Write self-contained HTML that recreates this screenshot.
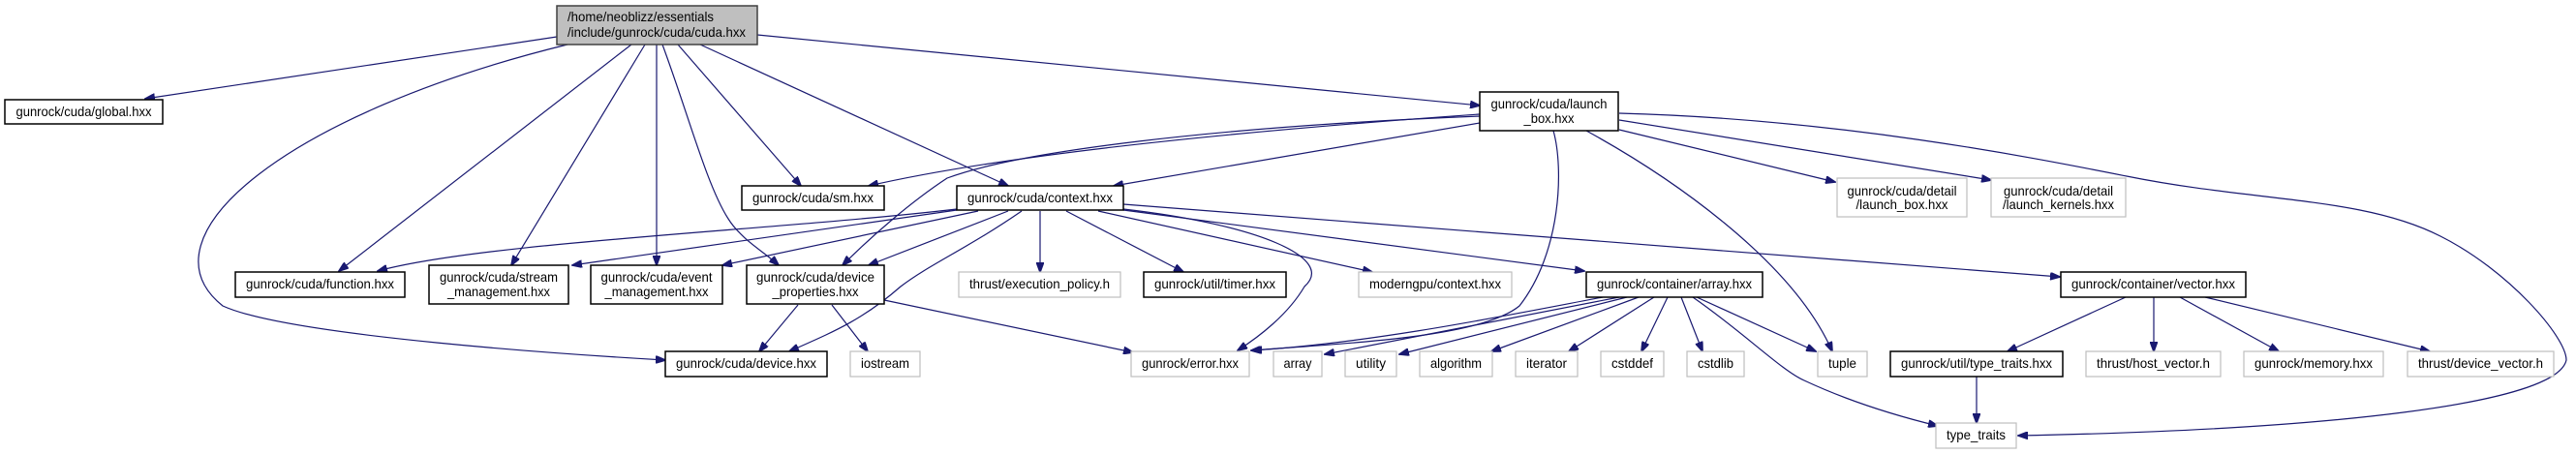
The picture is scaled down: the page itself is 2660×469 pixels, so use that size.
<!DOCTYPE html>
<html><head><meta charset="utf-8"><style>
html,body{margin:0;padding:0;background:#fff;}
svg{display:block;}
text{font-family:"Liberation Sans",sans-serif;font-size:14px;fill:#000;}
.b{fill:#fff;stroke:#000;stroke-width:1.5;}
.g{fill:#fff;stroke:#bfbfbf;stroke-width:1.2;}
.e{fill:none;stroke:#191970;stroke-width:1.2;marker-end:url(#a);}
</style></head><body>
<svg width="2660" height="469" viewBox="0 0 2660 469" xmlns="http://www.w3.org/2000/svg">
<defs><marker id="a" markerUnits="userSpaceOnUse" markerWidth="11" markerHeight="8" refX="10" refY="4" orient="auto"><path d="M0,0 L11,4 L0,8 z" fill="#191970" stroke="#191970"/></marker></defs>

<path class="e" d="M575,38 L150,102"/>
<path class="e" d="M586,46 C300,116 140,244 230,316 C300,348 600,367 687,372"/>
<path class="e" d="M652,46 L350,280"/>
<path class="e" d="M666,46 L528,274"/>
<path class="e" d="M678,46 L678,274"/>
<path class="e" d="M684,46 C710,116 730,192 752,226 C765,247 790,261 804,274"/>
<path class="e" d="M700,46 L827,192"/>
<path class="e" d="M723,46 L1041,192"/>
<path class="e" d="M782,36 L1528,109"/>

<path class="e" d="M1528,118 C1300,134 1050,157 897,192"/>
<path class="e" d="M1528,120 C1250,131 1050,157 978,184 C940,209 900,244 870,274"/>
<path class="e" d="M1528,127 L1150,192"/>
<path class="e" d="M1604,135 C1615,174 1612,261 1569,316 C1530,348 1400,354 1292,362"/>
<path class="e" d="M1638,135 C1720,180 1850,267 1892,363"/>
<path class="e" d="M1672,134 L1895,188"/>
<path class="e" d="M1672,124 L2056,186"/>
<path class="e" d="M1672,117 C1900,123 2100,163 2196,182 C2330,209 2440,203 2520,244 C2590,279 2650,348 2650,372 C2640,418 2400,444 2084,450"/>

<path class="e" d="M988,216 C800,238 500,250 390,280"/>
<path class="e" d="M988,217 L591,274"/>
<path class="e" d="M1010,218 L746,274"/>
<path class="e" d="M1041,218 L897,274"/>
<path class="e" d="M1055,218 C1000,256 960,273 930,296 C890,331 860,343 815,363"/>
<path class="e" d="M1074,218 L1074,281"/>
<path class="e" d="M1101,218 L1222,281"/>
<path class="e" d="M1160,216 C1300,232 1380,267 1347,296 C1330,325 1300,348 1278,362"/>
<path class="e" d="M1134,218 L1417,281"/>
<path class="e" d="M1160,217 L1636,280"/>
<path class="e" d="M1160,211 L2127,286"/>

<path class="e" d="M824,315 L784,363"/>
<path class="e" d="M859,315 L896,363"/>
<path class="e" d="M913,310 L1170,364"/>

<path class="e" d="M1655,307 C1560,325 1420,354 1293,362"/>
<path class="e" d="M1672,307 L1368,366"/>
<path class="e" d="M1680,307 L1445,366"/>
<path class="e" d="M1692,307 L1540,363"/>
<path class="e" d="M1708,307 L1620,363"/>
<path class="e" d="M1722,307 L1695,363"/>
<path class="e" d="M1736,307 L1758,363"/>
<path class="e" d="M1752,307 L1875,363"/>
<path class="e" d="M1748,307 C1800,343 1840,383 1863,393 C1910,415 1960,430 2001,440"/>

<path class="e" d="M2195,307 L2073,363"/>
<path class="e" d="M2224,307 L2224,363"/>
<path class="e" d="M2251,307 L2353,363"/>
<path class="e" d="M2277,307 L2509,363"/>
<path class="e" d="M2041,389 L2041,437"/>

<rect x="575" y="6" width="207" height="40" fill="#bfbfbf" stroke="#404040" stroke-width="1.5"/>
<text x="586" y="22" textLength="151" lengthAdjust="spacingAndGlyphs">/home/neoblizz/essentials</text>
<text x="586" y="38" textLength="184" lengthAdjust="spacingAndGlyphs">/include/gunrock/cuda/cuda.hxx</text>

<rect class="b" x="5" y="103" width="163" height="25"/>
<text x="86.5" y="120" text-anchor="middle" textLength="140" lengthAdjust="spacingAndGlyphs">gunrock/cuda/global.hxx</text>

<rect class="b" x="243" y="281" width="175" height="26"/>
<text x="330.5" y="298" text-anchor="middle" textLength="153" lengthAdjust="spacingAndGlyphs">gunrock/cuda/function.hxx</text>

<rect class="b" x="443" y="274" width="144" height="40"/>
<text x="515" y="291" text-anchor="middle" textLength="122" lengthAdjust="spacingAndGlyphs">gunrock/cuda/stream</text>
<text x="515" y="306" text-anchor="middle" textLength="106" lengthAdjust="spacingAndGlyphs">_management.hxx</text>

<rect class="b" x="610" y="274" width="136" height="40"/>
<text x="678" y="291" text-anchor="middle" textLength="115" lengthAdjust="spacingAndGlyphs">gunrock/cuda/event</text>
<text x="678" y="306" text-anchor="middle" textLength="107" lengthAdjust="spacingAndGlyphs">_management.hxx</text>

<rect class="b" x="771" y="274" width="142" height="40"/>
<text x="842" y="291" text-anchor="middle" textLength="122" lengthAdjust="spacingAndGlyphs">gunrock/cuda/device</text>
<text x="842" y="306" text-anchor="middle" textLength="89" lengthAdjust="spacingAndGlyphs">_properties.hxx</text>

<rect class="b" x="687" y="363" width="167" height="26"/>
<text x="770.5" y="380" text-anchor="middle" textLength="145" lengthAdjust="spacingAndGlyphs">gunrock/cuda/device.hxx</text>

<rect class="g" x="878" y="363" width="72" height="26"/>
<text x="914" y="380" text-anchor="middle" textLength="50" lengthAdjust="spacingAndGlyphs">iostream</text>

<rect class="b" x="766" y="192" width="147" height="25"/>
<text x="839.5" y="209" text-anchor="middle" textLength="125" lengthAdjust="spacingAndGlyphs">gunrock/cuda/sm.hxx</text>

<rect class="b" x="1528" y="95" width="143" height="40"/>
<text x="1599.5" y="112" text-anchor="middle" textLength="120" lengthAdjust="spacingAndGlyphs">gunrock/cuda/launch</text>
<text x="1599.5" y="127" text-anchor="middle" textLength="52" lengthAdjust="spacingAndGlyphs">_box.hxx</text>

<rect class="b" x="988" y="192" width="172" height="25"/>
<text x="1074" y="209" text-anchor="middle" textLength="150" lengthAdjust="spacingAndGlyphs">gunrock/cuda/context.hxx</text>

<rect class="g" x="990" y="281" width="167" height="26"/>
<text x="1073.5" y="298" text-anchor="middle" textLength="145" lengthAdjust="spacingAndGlyphs">thrust/execution_policy.h</text>

<rect class="b" x="1181" y="281" width="147" height="26"/>
<text x="1254.5" y="298" text-anchor="middle" textLength="125" lengthAdjust="spacingAndGlyphs">gunrock/util/timer.hxx</text>

<rect class="g" x="1403" y="281" width="158" height="26"/>
<text x="1482" y="298" text-anchor="middle" textLength="136" lengthAdjust="spacingAndGlyphs">moderngpu/context.hxx</text>

<rect class="b" x="1638" y="281" width="182" height="26"/>
<text x="1729" y="298" text-anchor="middle" textLength="160" lengthAdjust="spacingAndGlyphs">gunrock/container/array.hxx</text>

<rect class="g" x="1168" y="363" width="122" height="26"/>
<text x="1229" y="380" text-anchor="middle" textLength="100" lengthAdjust="spacingAndGlyphs">gunrock/error.hxx</text>

<rect class="g" x="1315" y="363" width="50" height="26"/>
<text x="1340" y="380" text-anchor="middle" textLength="29" lengthAdjust="spacingAndGlyphs">array</text>

<rect class="g" x="1389" y="363" width="53" height="26"/>
<text x="1415.5" y="380" text-anchor="middle" textLength="31" lengthAdjust="spacingAndGlyphs">utility</text>

<rect class="g" x="1466" y="363" width="75" height="26"/>
<text x="1503.5" y="380" text-anchor="middle" textLength="53" lengthAdjust="spacingAndGlyphs">algorithm</text>

<rect class="g" x="1565" y="363" width="64" height="26"/>
<text x="1597" y="380" text-anchor="middle" textLength="42" lengthAdjust="spacingAndGlyphs">iterator</text>

<rect class="g" x="1653" y="363" width="65" height="26"/>
<text x="1685.5" y="380" text-anchor="middle" textLength="43" lengthAdjust="spacingAndGlyphs">cstddef</text>

<rect class="g" x="1742" y="363" width="59" height="26"/>
<text x="1771.5" y="380" text-anchor="middle" textLength="37" lengthAdjust="spacingAndGlyphs">cstdlib</text>

<rect class="g" x="1877" y="363" width="51" height="26"/>
<text x="1902.5" y="380" text-anchor="middle" textLength="29" lengthAdjust="spacingAndGlyphs">tuple</text>

<rect class="g" x="1897" y="184" width="134" height="40"/>
<text x="1964" y="202" text-anchor="middle" textLength="113" lengthAdjust="spacingAndGlyphs">gunrock/cuda/detail</text>
<text x="1964" y="216" text-anchor="middle" textLength="95" lengthAdjust="spacingAndGlyphs">/launch_box.hxx</text>

<rect class="g" x="2056" y="184" width="139" height="40"/>
<text x="2125.5" y="202" text-anchor="middle" textLength="113" lengthAdjust="spacingAndGlyphs">gunrock/cuda/detail</text>
<text x="2125.5" y="216" text-anchor="middle" textLength="115" lengthAdjust="spacingAndGlyphs">/launch_kernels.hxx</text>

<rect class="b" x="2128" y="281" width="191" height="26"/>
<text x="2223.5" y="298" text-anchor="middle" textLength="169" lengthAdjust="spacingAndGlyphs">gunrock/container/vector.hxx</text>

<rect class="b" x="1952" y="363" width="178" height="26"/>
<text x="2041" y="380" text-anchor="middle" textLength="156" lengthAdjust="spacingAndGlyphs">gunrock/util/type_traits.hxx</text>

<rect class="g" x="2154" y="363" width="139" height="26"/>
<text x="2223.5" y="380" text-anchor="middle" textLength="117" lengthAdjust="spacingAndGlyphs">thrust/host_vector.h</text>

<rect class="g" x="2317" y="363" width="144" height="26"/>
<text x="2389" y="380" text-anchor="middle" textLength="122" lengthAdjust="spacingAndGlyphs">gunrock/memory.hxx</text>

<rect class="g" x="2486" y="363" width="151" height="26"/>
<text x="2561.5" y="380" text-anchor="middle" textLength="129" lengthAdjust="spacingAndGlyphs">thrust/device_vector.h</text>

<rect class="g" x="1999" y="437" width="83" height="26"/>
<text x="2040.5" y="454" text-anchor="middle" textLength="61" lengthAdjust="spacingAndGlyphs">type_traits</text>
</svg>
</body></html>
